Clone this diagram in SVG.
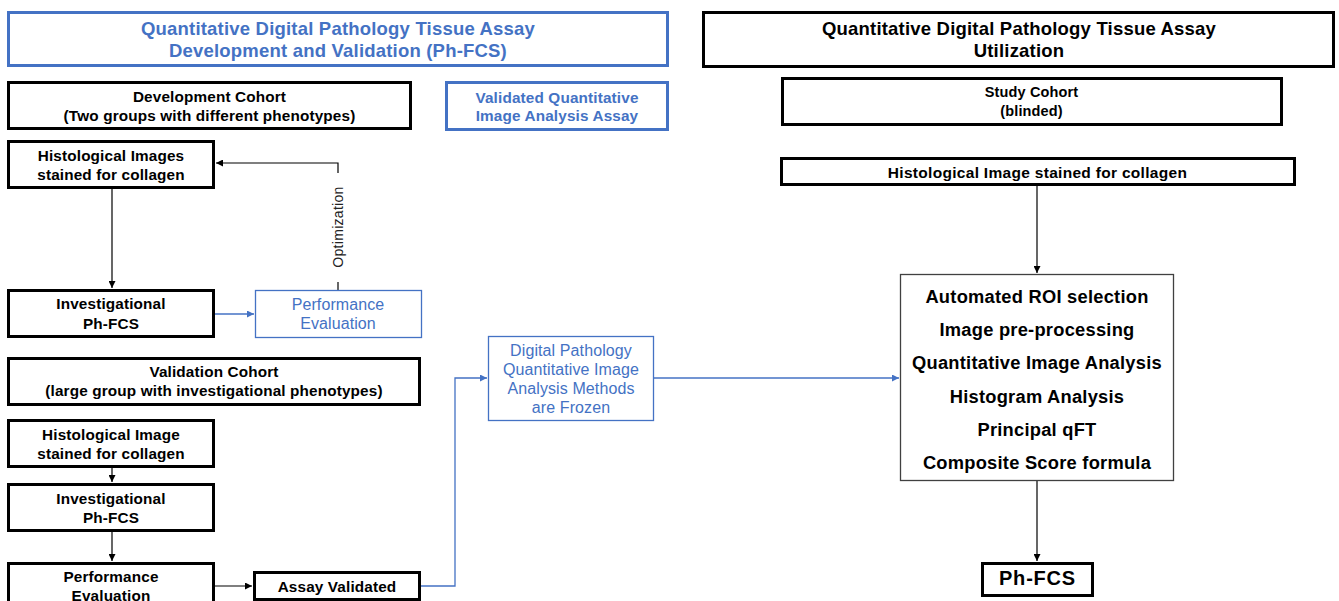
<svg xmlns="http://www.w3.org/2000/svg" width="1339" height="601" viewBox="0 0 1339 601">
<style>
text{font-family:"Liberation Sans",Arial,sans-serif;text-anchor:middle}
.title{font-size:18.5px;font-weight:bold;letter-spacing:0.2px}
.b15{font-size:15.3px;font-weight:bold;letter-spacing:0.15px;fill:#000}
.r15{font-size:16px;letter-spacing:0.1px;fill:#4472C4}
.big{font-size:18.3px;font-weight:bold;letter-spacing:0.25px;fill:#000}
.blue{fill:#4472C4}
.bk{fill:#000}
.thick{fill:#fff;stroke:#000;stroke-width:3}
.thickb{fill:#fff;stroke:#4472C4;stroke-width:3}
.thinb{fill:#fff;stroke:#4472C4;stroke-width:1.3}
.thin{fill:#fff;stroke:#404040;stroke-width:1.3}
.c{fill:none;stroke:#000;stroke-width:1.2}
.cb{fill:none;stroke:#4472C4;stroke-width:1.3}
</style>
<defs>
<marker id="ak" viewBox="0 0 10 10" refX="10" refY="5" markerWidth="7" markerHeight="7" markerUnits="userSpaceOnUse" orient="auto"><path d="M0,0 L10,5 L0,10 z" fill="#000"/></marker>
<marker id="ab" viewBox="0 0 10 10" refX="10" refY="5" markerWidth="7" markerHeight="7" markerUnits="userSpaceOnUse" orient="auto"><path d="M0,0 L10,5 L0,10 z" fill="#4472C4"/></marker>
</defs>
<rect width="1339" height="601" fill="#fff"/>

<g id="connectors">
<path class="c" d="M112,189 L112,288" marker-end="url(#ak)"/>
<path class="cb" d="M215,314 L254,314" marker-end="url(#ab)"/>
<path class="c" d="M338,290 L338,282"/>
<path class="c" d="M338,173 L338,163 L216,163" marker-end="url(#ak)"/>
<text class="bk" transform="translate(343,227) rotate(-90)" style="font-size:14px;letter-spacing:0.3px;fill:#222">Optimization</text>
<path class="c" d="M112,467 L112,482" marker-end="url(#ak)"/>
<path class="c" d="M112,532 L112,561" marker-end="url(#ak)"/>
<path class="c" d="M215,586 L252,586" marker-end="url(#ak)"/>
<path class="cb" d="M421,586 L455,586 L455,378 L487,378" marker-end="url(#ab)"/>
<path class="cb" d="M654,378 L899,378" marker-end="url(#ab)"/>
<path class="c" d="M1037,185 L1037,273" marker-end="url(#ak)"/>
<path class="c" d="M1037,480 L1037,561" marker-end="url(#ak)"/>
</g>

<g id="title-left">
<rect class="thickb" x="8.5" y="12.5" width="659" height="53"/>
<text class="title blue" x="338" y="34.5">Quantitative Digital Pathology Tissue Assay</text>
<text class="title blue" x="338" y="56.5">Development and Validation (Ph-FCS)</text>
</g>

<g id="dev-cohort">
<rect class="thick" x="8.5" y="82.5" width="402" height="46"/>
<text class="b15" x="209.5" y="101.5">Development Cohort</text>
<text class="b15" x="209.5" y="120.5">(Two groups with different phenotypes)</text>
</g>

<g id="validated-assay">
<rect class="thickb" x="446.5" y="82.5" width="221" height="47"/>
<text class="b15 blue" x="557" y="102.5">Validated Quantitative</text>
<text class="b15 blue" x="557" y="120.5">Image Analysis Assay</text>
</g>

<g id="hist-images-1">
<rect class="thick" x="8.5" y="141.5" width="205" height="46"/>
<text class="b15" x="111" y="160.5">Histological Images</text>
<text class="b15" x="111" y="179.5">stained for collagen</text>
</g>

<g id="investigational-1">
<rect class="thick" x="8.5" y="290.5" width="205" height="46"/>
<text class="b15" x="111" y="308.5">Investigational</text>
<text class="b15" x="111" y="328.5">Ph-FCS</text>
</g>

<g id="perf-eval-1">
<rect class="thinb" x="255.5" y="290.5" width="166" height="47"/>
<text class="r15" x="338" y="309.5">Performance</text>
<text class="r15" x="338" y="328.5">Evaluation</text>
</g>

<g id="validation-cohort">
<rect class="thick" x="8.5" y="358.5" width="411" height="46"/>
<text class="b15" x="214" y="376.5">Validation Cohort</text>
<text class="b15" x="214" y="395.5">(large group with investigational phenotypes)</text>
</g>

<g id="hist-image-2">
<rect class="thick" x="8.5" y="420.5" width="205" height="46"/>
<text class="b15" x="111" y="439.5">Histological Image</text>
<text class="b15" x="111" y="458.5">stained for collagen</text>
</g>

<g id="investigational-2">
<rect class="thick" x="8.5" y="484.5" width="205" height="46"/>
<text class="b15" x="111" y="503.5">Investigational</text>
<text class="b15" x="111" y="522.5">Ph-FCS</text>
</g>

<g id="perf-eval-2">
<rect class="thick" x="8.5" y="563.5" width="205" height="50"/>
<text class="b15" x="111" y="581.5">Performance</text>
<text class="b15" x="111" y="600.5">Evaluation</text>
</g>

<g id="assay-validated">
<rect class="thick" x="254.5" y="572.5" width="165" height="27"/>
<text class="b15" x="337" y="591.5">Assay Validated</text>
</g>

<g id="frozen-methods">
<rect class="thinb" x="488.5" y="336.5" width="165" height="84"/>
<text class="r15" x="571" y="355.5">Digital Pathology</text>
<text class="r15" x="571" y="374.5">Quantitative Image</text>
<text class="r15" x="571" y="393.5">Analysis Methods</text>
<text class="r15" x="571" y="412.5">are Frozen</text>
</g>

<g id="title-right">
<rect class="thick" x="703.5" y="12.5" width="630" height="54"/>
<text class="title bk" x="1019" y="34.5">Quantitative Digital Pathology Tissue Assay</text>
<text class="title bk" x="1019" y="56.5">Utilization</text>
</g>

<g id="study-cohort">
<rect class="thick" x="782.5" y="78.5" width="499" height="46"/>
<text class="b15" x="1031.5" y="96.5" style="font-size:14.5px">Study Cohort</text>
<text class="b15" x="1031.5" y="115.5" style="font-size:14.5px">(blinded)</text>
</g>

<g id="hist-image-right">
<rect class="thick" x="781.5" y="158.5" width="513" height="26"/>
<text class="b15" x="1037.5" y="177.5" style="font-size:15.5px;letter-spacing:0.3px">Histological Image stained for collagen</text>
</g>

<g id="analysis-steps">
<rect class="thin" x="900.5" y="274.5" width="273" height="206"/>
<text class="big" x="1037" y="303.3">Automated ROI selection</text>
<text class="big" x="1037" y="336.3">Image pre-processing</text>
<text class="big" x="1037" y="369.3">Quantitative Image Analysis</text>
<text class="big" x="1037" y="403.3">Histogram Analysis</text>
<text class="big" x="1037" y="436.3">Principal qFT</text>
<text class="big" x="1037" y="469.3">Composite Score formula</text>
</g>

<g id="ph-fcs">
<rect class="thick" x="982.5" y="563.5" width="110" height="32"/>
<text class="bk" x="1037.5" y="585" style="font-size:20px;font-weight:bold;letter-spacing:0.8px">Ph-FCS</text>
</g>
</svg>
